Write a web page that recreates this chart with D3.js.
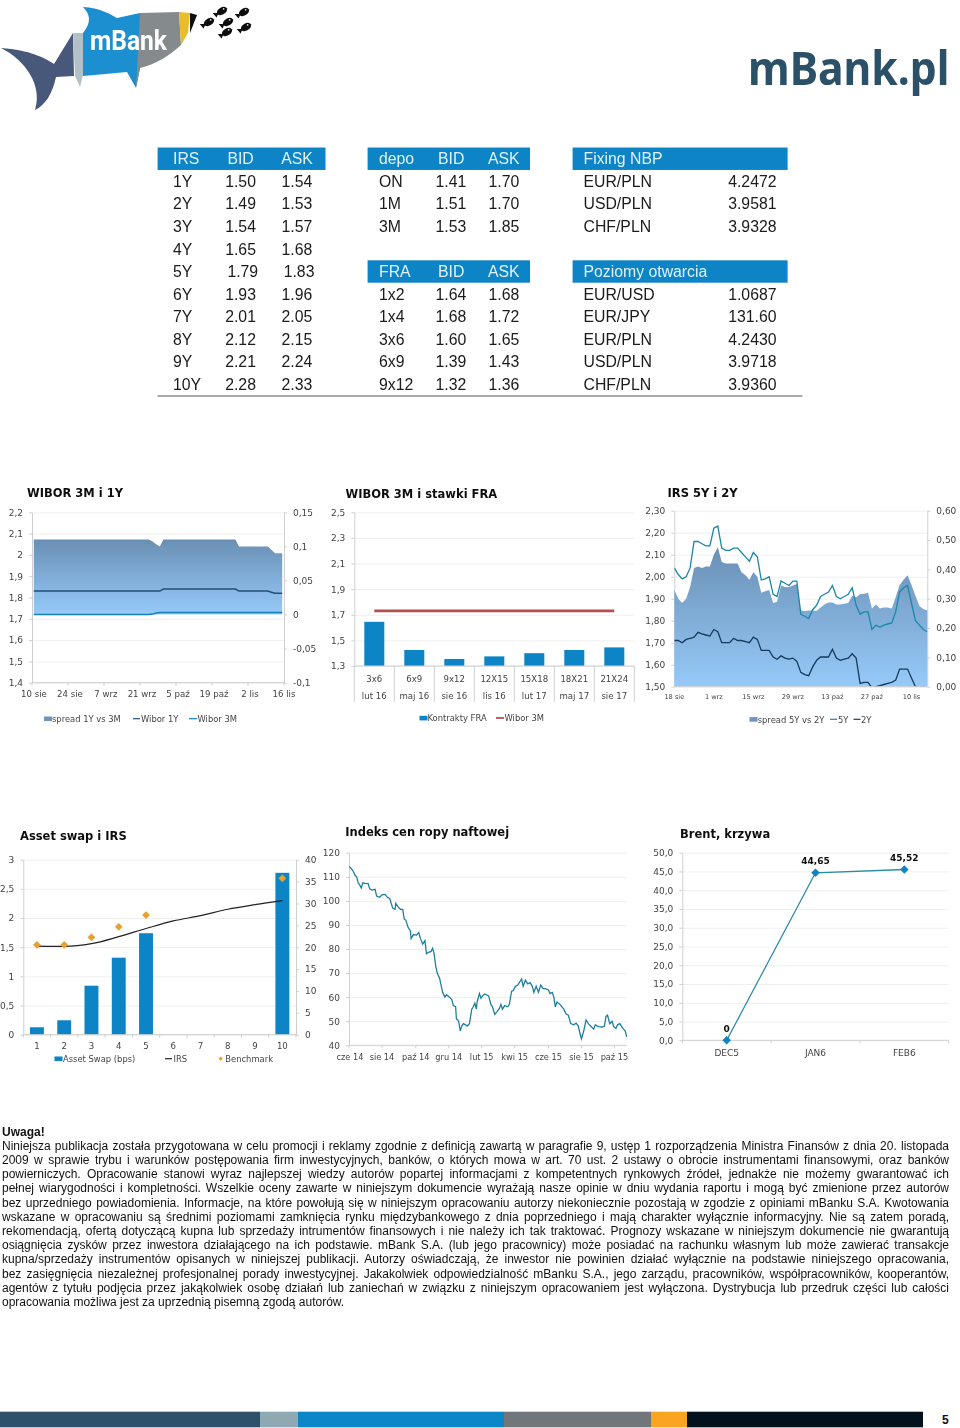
<!DOCTYPE html>
<html lang="pl"><head><meta charset="utf-8">
<script src="https://cdn.jsdelivr.net/npm/d3@7/dist/d3.min.js"></script>
<style>
html,body{margin:0;padding:0;background:#fff;width:960px;height:1428px;overflow:hidden}
#root{position:relative;width:960px;height:1428px}
svg{position:absolute;left:0;top:0}
.note{position:absolute;left:2px;width:947px;font:12px/14.2px "Liberation Sans",Arial,sans-serif;color:#111;white-space:nowrap;filter:blur(.25px)}
.just{white-space:normal;text-align:justify;text-align-last:justify}
.axis text{font-family:"DejaVu Sans",Verdana,sans-serif;fill:#444}
.axis .domain{stroke:#cfcfcf}
.axis line{stroke:#cfcfcf}
.grid line{stroke:#efefef}
.grid .domain{display:none}
.grid text{display:none}
</style></head><body><div id="root"></div>
<script>
// ---------- tables ----------
const irsRows=[["1Y","1.50","1.54"],["2Y","1.49","1.53"],["3Y","1.54","1.57"],["4Y","1.65","1.68"],["5Y","1.79","1.83"],["6Y","1.93","1.96"],["7Y","2.01","2.05"],["8Y","2.12","2.15"],["9Y","2.21","2.24"],["10Y","2.28","2.33"]];
const depoRows=[["ON","1.41","1.70"],["1M","1.51","1.70"],["3M","1.53","1.85"]];
const fraRows=[["1x2","1.64","1.68"],["1x4","1.68","1.72"],["3x6","1.60","1.65"],["6x9","1.39","1.43"],["9x12","1.32","1.36"]];
const fixingRows=[["EUR/PLN","4.2472"],["USD/PLN","3.9581"],["CHF/PLN","3.9328"]];
const openRows=[["EUR/USD","1.0687"],["EUR/JPY","131.60"],["EUR/PLN","4.2430"],["USD/PLN","3.9718"],["CHF/PLN","3.9360"]];

// ---------- WIBOR 3M i 1Y ----------
const wiborDateTicks=["10 sie","24 sie","7 wrz","21 wrz","5 paź","19 paź","2 lis","16 lis"];
const wiborLeftTicks=[1.4,1.5,1.6,1.7,1.8,1.9,2,2.1,2.2];
const wiborRightTicks=[-0.1,-0.05,0,0.05,0.1,0.15];
const wiborSpread=[.11,.11,.11,.11,.11,.11,.11,.11,.11,.11,.11,.11,.11,.11,.11,.11,.11,.11,.11,.11,.11,.11,.11,.11,.11,.11,.11,.11,.11,.11,.11,.11,.11,.107,.103,.10,.11,.11,.11,.11,.11,.11,.11,.11,.11,.11,.11,.11,.11,.11,.11,.11,.11,.11,.11,.11,.11,.10,.10,.10,.10,.10,.10,.10,.10,.10,.095,.09,.09,.09];
const wibor1Y=[1.83,1.83,1.83,1.83,1.83,1.83,1.83,1.83,1.83,1.83,1.83,1.83,1.83,1.83,1.83,1.83,1.83,1.83,1.83,1.83,1.83,1.83,1.83,1.83,1.83,1.83,1.83,1.83,1.83,1.83,1.83,1.83,1.83,1.83,1.83,1.83,1.84,1.84,1.84,1.84,1.84,1.84,1.84,1.84,1.84,1.84,1.84,1.84,1.84,1.84,1.84,1.84,1.84,1.84,1.84,1.84,1.84,1.83,1.83,1.83,1.83,1.83,1.83,1.83,1.83,1.83,1.825,1.82,1.82,1.82];
const wibor3M=[1.72,1.72,1.72,1.72,1.72,1.72,1.72,1.72,1.72,1.72,1.72,1.72,1.72,1.72,1.72,1.72,1.72,1.72,1.72,1.72,1.72,1.72,1.72,1.72,1.72,1.72,1.72,1.72,1.72,1.72,1.72,1.72,1.72,1.722,1.727,1.73,1.73,1.73,1.73,1.73,1.73,1.73,1.73,1.73,1.73,1.73,1.73,1.73,1.73,1.73,1.73,1.73,1.73,1.73,1.73,1.73,1.73,1.73,1.73,1.73,1.73,1.73,1.73,1.73,1.73,1.73,1.73,1.73,1.73,1.73];

// ---------- WIBOR 3M i stawki FRA ----------
const fraContracts=["3x6","6x9","9x12","12X15","15X18","18X21","21X24"];
const fraMonths=["lut 16","maj 16","sie 16","lis 16","lut 17","maj 17","sie 17"];
const fraValues=[1.645,1.425,1.355,1.375,1.40,1.425,1.445];
const fraWibor=[1.73,1.73,1.73,1.73,1.73,1.73,1.73];
const fraTicks=[1.3,1.5,1.7,1.9,2.1,2.3,2.5];

// ---------- IRS 5Y i 2Y ----------
const irsDateLabels=["18 sie","1 wrz","15 wrz","29 wrz","13 paź","27 paź","10 lis"];
const irsLeftTicks=[1.5,1.6,1.7,1.8,1.9,2.0,2.1,2.2,2.3];
const irsRightTicks=[0,0.1,0.2,0.3,0.4,0.5,0.6];
const irs5Y=[2.04,2.01,1.99,2.00,2.04,2.16,2.16,2.15,2.14,2.14,2.22,2.23,2.13,2.12,2.12,2.13,2.13,2.11,2.09,2.07,2.11,2.09,1.985,1.99,2.00,1.92,1.91,1.98,1.97,1.96,1.98,1.98,1.83,1.82,1.81,1.85,1.87,1.91,1.92,1.93,1.96,1.91,1.90,1.91,1.92,1.95,1.87,1.83,1.84,1.84,1.76,1.78,1.77,1.78,1.785,1.79,1.84,1.93,1.95,1.96,1.88,1.80,1.78,1.76,1.75];
const irs2Y=[1.71,1.71,1.70,1.715,1.72,1.725,1.747,1.74,1.735,1.73,1.76,1.75,1.70,1.70,1.70,1.72,1.71,1.71,1.705,1.70,1.725,1.715,1.665,1.665,1.665,1.635,1.625,1.64,1.63,1.625,1.63,1.615,1.565,1.555,1.55,1.59,1.62,1.635,1.635,1.635,1.67,1.63,1.62,1.625,1.63,1.65,1.63,1.515,1.52,1.52,1.495,1.50,1.505,1.51,1.515,1.52,1.53,1.58,1.58,1.58,1.54,1.50,1.495,1.50,1.49];
const irsSpread=[.33,.30,.285,.30,.34,.405,.41,.405,.41,.41,.45,.475,.425,.42,.42,.42,.42,.39,.38,.365,.39,.375,.32,.325,.33,.285,.29,.345,.34,.34,.345,.35,.26,.258,.26,.26,.258,.27,.28,.287,.287,.28,.28,.283,.285,.31,.305,.315,.317,.32,.267,.28,.267,.27,.27,.267,.305,.347,.365,.38,.347,.31,.275,.265,.26];

// ---------- Asset swap i IRS ----------
const swapTenors=[1,2,3,4,5,6,7,8,9,10];
const swapBps=[1.7,3.3,11.2,17.6,23.2,null,null,null,null,37];
const swapIRS=[1.52,1.515,1.56,1.68,1.82,1.95,2.04,2.15,2.23,2.30];
const swapBenchmark=[1.54,1.54,1.67,1.85,2.05,null,null,null,null,2.68];
const swapLeftTicks=[0,0.5,1,1.5,2,2.5,3];
const swapRightTicks=[0,5,10,15,20,25,30,35,40];

// ---------- Indeks cen ropy ----------
const oilDayLabels=[[0,"cze 14"],[43,"sie 14"],[87,"paź 14"],[130,"gru 14"],[173,"lut 15"],[216,"kwi 15"],[260,"cze 15"],[303,"sie 15"],[346,"paź 15"]];
const oilTicks=[40,50,60,70,80,90,100,110,120];
const oilDays=[0,3,6,8,10,12,14,16,18,21,25,27,30,34,36,40,43,47,50,53,57,60,61,64,67,70,72,74,77,80,81,84,88,91,93,96,99,101,103,107,109,111,113,115,118,120,122,125,127,131,134,136,139,140,143,145,147,149,152,154,157,160,162,164,166,167,170,172,174,177,182,185,187,190,193,196,198,200,203,207,209,212,214,217,220,222,225,227,230,233,236,239,241,244,247,250,253,256,260,262,265,267,269,271,275,280,283,286,289,293,296,299,301,303,306,309,312,315,319,321,325,330,333,335,337,340,343,345,348,350,353,357,360,362];
const oilPrice=[114.3,113.5,112,110.5,110,107.5,106.5,105.3,107.5,107.3,107.2,105,104.5,104.8,102,101.5,102.5,102.7,101.5,101,97,96.5,99,97.5,96.5,96.5,92.5,92,89,87.5,84.3,86,85.8,86.8,84.5,82,83.5,78,78.5,79,80.3,78,73,70,68,65,62,60,61,60,59,56.5,56,51,50,46,48,49,48.5,48,49,55,56,57.5,55,58,61.5,59.5,60.5,61.3,60.5,57,56,52.8,54,55.3,57,55,56.5,56,57,62.5,62.7,64.5,65,66,67.5,64.5,67,65.5,66,64.5,62,64.5,62,65,63.5,63.5,63,61.5,62,60,56,58,57,55,53,52.5,49,48.5,49.2,48,45,42.7,46,50.5,49,48,46.7,48.5,47.8,47.6,48,52,52.5,49,50,47.8,47,48.5,49,47,46,43.5];

// ---------- Brent ----------
const brentMonths=["DEC5","JAN6","FEB6"];
const brentValues=[0,44.65,45.52];
const brentLabels=["0","44,65","45,52"];
const brentTicks=[0,5,10,15,20,25,30,35,40,45,50];

// ---------- footer / note ----------
const footerColors=["#2c5168","#8fa9b4","#0a86c9","#70767a","#f9a51f","#03111c"];
const footerEnds=[260,298,504,651,687,923];
const noteLines=[
"Niniejsza publikacja została przygotowana w celu promocji i reklamy zgodnie z definicją zawartą w paragrafie 9, ustęp 1 rozporządzenia Ministra Finansów z dnia 20. listopada",
"2009 w sprawie trybu i warunków postępowania firm inwestycyjnych, banków, o których mowa w art. 70 ust. 2 ustawy o obrocie instrumentami finansowymi, oraz banków",
"powierniczych. Opracowanie stanowi wyraz najlepszej wiedzy autorów popartej informacjami z kompetentnych rynkowych źródeł, jednakże nie możemy gwarantować ich",
"pełnej wiarygodności i kompletności. Wszelkie oceny zawarte w niniejszym dokumencie wyrażają nasze opinie w dniu wydania raportu i mogą być zmienione przez autorów",
"bez uprzedniego powiadomienia. Informacje, na które powołują się w niniejszym opracowaniu autorzy niekoniecznie pozostają w zgodzie z opiniami mBanku S.A. Kwotowania",
"wskazane w opracowaniu są średnimi poziomami zamknięcia rynku międzybankowego z dnia poprzedniego i mają charakter wyłącznie informacyjny. Nie są zatem poradą,",
"rekomendacją, ofertą dotyczącą kupna lub sprzedaży intrumentów finansowych i nie należy ich tak traktować. Prognozy wskazane w niniejszym dokumencie nie gwarantują",
"osiągnięcia zysków przez inwestora działającego na ich podstawie. mBank S.A. (lub jego pracownicy) może posiadać na rachunku własnym lub może zawierać transakcje",
"kupna/sprzedaży instrumentów opisanych w niniejszej publikacji. Autorzy oświadczają, że inwestor nie powinien działać wyłącznie na podstawie niniejszego opracowania,",
"bez zasięgnięcia niezależnej profesjonalnej porady inwestycyjnej. Jakakolwiek odpowiedzialność mBanku S.A., jego zarządu, pracowników, współpracowników, kooperantów,",
"agentów z tytułu podjęcia przez jakąkolwiek osobę działań lub zaniechań w związku z niniejszym opracowaniem jest wyłączona. Dystrybucja lub przedruk części lub całości",
"opracowania możliwa jest za uprzednią pisemną zgodą autorów."];

// ---------- drawing ----------
const root=d3.select("#root");
const svg=root.append("svg").attr("width",960).attr("height",1428);
const defs=svg.append("defs");
const CHART="DejaVu Sans,Verdana,sans-serif", SANS="Liberation Sans,Arial,sans-serif";
const comma=v=>String(v).replace(".",",");
const comma2=v=>v.toFixed(2).replace(".",",");
const comma1=v=>v.toFixed(1).replace(".",",");
defs.append("filter").attr("id","soft").attr("x",0).attr("y",0).attr("width",1).attr("height",1).append("feGaussianBlur").attr("stdDeviation",0.42);
defs.append("filter").attr("id","soft2").attr("x",0).attr("y",0).attr("width",1).attr("height",1).append("feGaussianBlur").attr("stdDeviation",0.3);

// logos
const logo=svg.append("g").attr("filter","url(#soft2)");
[["M1,48C30,50 45,58 54,64L73,33L74,76L56,77C52,95 45,105 35,110C43,85 25,60 1,48Z","#46597a"],
 ["M73,33L83,33L83,75L80,87L75,76Z","#b3c0c8"],
 ["M83,33C92,22 90,14 83,7C100,8 110,14 117,18L140,13L140,68L136,88L127,72L83,76Z","#1a8fd1"],
 ["M140,13L179,12L181,45C170,55 155,65 140,68L136,88Z","#858a8d"],
 ["M179,12L190,13L188,33L181,45Z","#e8bc2a"],
 ["M190,13L197,15L190,33Z","#0b0b0b"]].forEach(([d,f])=>logo.append("path").attr("d",d).attr("fill",f));
[[222,11],[244,12],[209,22],[228,22],[246,27],[227,32]].forEach(([x,y])=>{
  const g=logo.append("g").attr("transform",`translate(${x},${y}) rotate(-30)`);
  g.append("ellipse").attr("rx",5.5).attr("ry",3.6).attr("fill","#111");
  g.append("path").attr("d","M-4,0L-9,-3L-8,3Z").attr("fill","#111");
  g.append("circle").attr("cx",2.5).attr("cy",-1).attr("r",.8).attr("fill","#fff");
});
logo.append("text").text("mBank").attr("transform","translate(90,50) scale(1,1.15)").attr("font-family","Liberation Sans Narrow,Roboto,sans-serif").attr("font-weight",700).attr("font-size",24).attr("fill","#fff").attr("textLength",77).attr("lengthAdjust","spacingAndGlyphs");
logo.append("text").text("mBank.pl").attr("transform","translate(748,85) scale(1,1.09)").attr("font-family","Noto Sans,sans-serif").attr("font-weight",700).attr("font-size",42.7).attr("fill","#2c5168");

// tables
const tableG=svg.append("g").attr("filter","url(#soft2)");
const rowY=i=>181.3+22.55*i;
function cell(txt,x,y,fill,anchor){tableG.append("text").text(txt).attr("x",x).attr("y",y+5.6).attr("font-family",SANS).attr("font-size",15.8).attr("fill",fill||"#1a1a1a").attr("text-anchor",anchor||"start");}
function head(x0,x1,row,labels){
  const cy=rowY(row)-22.55;
  tableG.append("rect").attr("x",x0).attr("y",cy-11.2).attr("width",x1-x0).attr("height",22.4).attr("fill","#0a84c6");
  labels.forEach(([t,x])=>cell(t,x,cy,"#e4f2fb"));
}
head(157.6,325.5,0,[["IRS",173],["BID",227.4],["ASK",281.3]]);
irsRows.forEach((r,i)=>{const dx=r[0]==="5Y"?2.2:0;cell(r[0],173,rowY(i));cell(r[1],225.2+dx,rowY(i));cell(r[2],281.5+dx,rowY(i));});
head(367.6,530,0,[["depo",379],["BID",438],["ASK",488]]);
depoRows.forEach((r,i)=>{cell(r[0],379,rowY(i));cell(r[1],435.5,rowY(i));cell(r[2],488.5,rowY(i));});
head(367.6,530,5,[["FRA",379],["BID",438],["ASK",488]]);
fraRows.forEach((r,i)=>{cell(r[0],379,rowY(i+5));cell(r[1],435.5,rowY(i+5));cell(r[2],488.5,rowY(i+5));});
head(572.6,787.6,0,[["Fixing NBP",583.5]]);
fixingRows.forEach((r,i)=>{cell(r[0],583.5,rowY(i));cell(r[1],776.5,rowY(i),null,"end");});
head(572.6,787.6,5,[["Poziomy otwarcia",583.5]]);
openRows.forEach((r,i)=>{cell(r[0],583.5,rowY(i+5));cell(r[1],776.5,rowY(i+5),null,"end");});
svg.append("line").attr("x1",157.6).attr("x2",802.4).attr("y1",396).attr("y2",396).attr("stroke","#555").attr("stroke-width",1);

// helpers
const charts=svg.append("g").attr("filter","url(#soft)");
function title(t,x,y){charts.append("text").text(t).attr("x",x).attr("y",y+4).attr("font-family",CHART).attr("font-weight",700).attr("font-size",11.5).attr("fill","#111");}
function leftAxis(y,ticks,fmt,x0,x1,fs){
  charts.append("g").attr("class","grid").attr("transform",`translate(${x0},0)`).call(d3.axisLeft(y).tickValues(ticks).tickSize(-(x1-x0)));
  const g=charts.append("g").attr("class","axis").attr("transform",`translate(${x0},0)`).call(d3.axisLeft(y).tickValues(ticks).tickFormat(fmt).tickSize(3).tickSizeOuter(0).tickPadding(6));
  g.selectAll("text").attr("font-size",fs||9);return g;
}
function rightAxis(y,ticks,fmt,x1,fs){
  const g=charts.append("g").attr("class","axis").attr("transform",`translate(${x1},0)`).call(d3.axisRight(y).tickValues(ticks).tickFormat(fmt).tickSize(3).tickSizeOuter(0).tickPadding(6));
  g.selectAll("text").attr("font-size",fs||9);return g;
}
function txt(t,x,y,opts){opts=opts||{};charts.append("text").text(t).attr("x",x).attr("y",y+3.2).attr("font-family",CHART).attr("font-size",opts.fs||8.6).attr("font-weight",opts.w||400).attr("fill",opts.fill||"#444").attr("text-anchor",opts.a||"start");}
function legendBox(x,y,f){charts.append("rect").attr("x",x).attr("y",y-2.2).attr("width",8).attr("height",4.6).attr("fill",f);}
function legendLine(x0,x1,y,c,w){charts.append("line").attr("x1",x0).attr("x2",x1).attr("y1",y).attr("y2",y).attr("stroke",c).attr("stroke-width",w||1.2);}
function grad(id,y0,y1){const g=defs.append("linearGradient").attr("id",id).attr("gradientUnits","userSpaceOnUse").attr("x1",0).attr("x2",0).attr("y1",y0).attr("y2",y1);
  g.append("stop").attr("offset",0).attr("stop-color","#6a8fb4");g.append("stop").attr("offset",1).attr("stop-color","#96caf9");}
function hLine(x0,x1,y){charts.append("line").attr("x1",x0).attr("x2",x1).attr("y1",y).attr("y2",y).attr("stroke","#cfcfcf");}
function diamond(x,y,size,fill){charts.append("path").attr("d",d3.symbol(d3.symbolSquare,size)()).attr("transform",`translate(${x},${y}) rotate(45)`).attr("fill",fill);}

// Chart 1
(function(){
  const x0=32,x1=284,top=512.3,bot=682.7;
  const xB=d3.scaleBand().domain(d3.range(wiborSpread.length)).range([x0,x1]);
  const cx=i=>xB(i)+xB.bandwidth()/2;
  const yL=d3.scaleLinear().domain([1.4,2.2]).range([bot,top]);
  const yR=d3.scaleLinear().domain([-0.1,0.15]).range([bot,top]);
  title("WIBOR 3M i 1Y",27,493);
  leftAxis(yL,wiborLeftTicks,comma,x0,x1);
  rightAxis(yR,wiborRightTicks,comma,x1);
  grad("g1",yR(0.11),yR(0));
  charts.append("path").datum(wiborSpread).attr("fill","url(#g1)").attr("d",d3.area().x((d,i)=>cx(i)).y0(yR(0)).y1(d=>yR(d)));
  [[wibor1Y,"#234d78"],[wibor3M,"#1380b8"]].forEach(([s,c])=>charts.append("path").datum(s).attr("fill","none").attr("stroke",c).attr("stroke-width",1.5).attr("d",d3.line().x((d,i)=>cx(i)).y(d=>yL(d))));
  hLine(x0,x1,bot);
  wiborDateTicks.forEach((t,k)=>{const i=Math.min(k*10,wiborSpread.length);const tx=xB(Math.min(i,69))+(i>=70?xB.bandwidth():0);
    charts.append("line").attr("x1",tx).attr("x2",tx).attr("y1",bot).attr("y2",bot+3).attr("stroke","#cfcfcf");
    txt(t,tx+(k==7?0:2),694,{a:"middle",fs:8.6});});
  legendBox(44,718.7,"#6f94ba");txt("spread 1Y vs 3M",52,718.7,{fs:8.4});
  legendLine(133,140,718.7,"#234d78");txt("Wibor 1Y",141,718.7,{fs:8.4});
  legendLine(189,197,718.7,"#1380b8");txt("Wibor 3M",197.5,718.7,{fs:8.4});
})();

// Chart 2
(function(){
  const x0=354.3,x1=634.3,top=512.3,bot=666;
  const x=d3.scaleBand().domain(fraContracts).range([x0,x1]);
  const y=d3.scaleLinear().domain([1.3,2.5]).range([bot,top]);
  title("WIBOR 3M i stawki FRA",345.5,493.5);
  leftAxis(y,fraTicks,comma,x0,x1);
  charts.selectAll(null).data(fraValues).join("rect").attr("x",(d,i)=>x(fraContracts[i])+x.bandwidth()*.25).attr("width",x.bandwidth()*.5).attr("y",d=>y(d)).attr("height",d=>bot-y(d)).attr("fill","#0a84c6");
  charts.append("path").datum(fraWibor).attr("fill","none").attr("stroke","#b5504f").attr("stroke-width",2.6).attr("d",d3.line().x((d,i)=>x(fraContracts[i])+x.bandwidth()/2).y(d=>y(d)));
  hLine(x0,x1,bot);
  fraContracts.forEach((c,i)=>{
    const bx=x(c);
    charts.append("line").attr("x1",bx).attr("x2",bx).attr("y1",bot).attr("y2",702).attr("stroke","#cfcfcf");
    txt(c,bx+x.bandwidth()/2,678.7,{a:"middle",fs:8.6});
    txt(fraMonths[i],bx+x.bandwidth()/2,696,{a:"middle",fs:8.6});
  });
  charts.append("line").attr("x1",x1).attr("x2",x1).attr("y1",bot).attr("y2",702).attr("stroke","#cfcfcf");
  legendBox(419.5,718,"#0a84c6");txt("Kontrakty FRA",427.5,718,{fs:8.4});
  legendLine(496,504,718,"#b5504f",1.8);txt("Wibor 3M",504.5,718,{fs:8.4});
})();

// Chart 3
(function(){
  const x0=674.3,x1=927.3,top=510.7,bot=686.7;
  const x=d3.scalePoint().domain(d3.range(irs5Y.length)).range([x0,x1]);
  const yL=d3.scaleLinear().domain([1.5,2.3]).range([bot,top]);
  const yR=d3.scaleLinear().domain([0,0.6]).range([bot,top]);
  title("IRS 5Y i 2Y",667.5,493);
  leftAxis(yL,irsLeftTicks,comma2,x0,x1);
  rightAxis(yR,irsRightTicks,comma2,x1);
  grad("g3",yR(0.475),yR(0));
  defs.append("clipPath").attr("id","c3").append("rect").attr("x",x0).attr("y",top).attr("width",x1-x0).attr("height",bot-top);
  charts.append("path").datum(irsSpread).attr("fill","url(#g3)").attr("d",d3.area().x((d,i)=>x(i)).y0(bot).y1(d=>yR(d)));
  [[irs5Y,"#1b87ab"],[irs2Y,"#153a5c"]].forEach(([s,c])=>charts.append("path").datum(s).attr("clip-path","url(#c3)").attr("fill","none").attr("stroke",c).attr("stroke-width",1.3).attr("d",d3.line().x((d,i)=>x(i)).y(d=>yL(d))));
  hLine(x0,x1,bot);
  irsDateLabels.forEach((t,k)=>txt(t,x(k*10),696,{a:"middle",fs:6.6}));
  legendBox(749.5,719.3,"#6f94ba");txt("spread 5Y vs 2Y",757.7,719.3,{fs:8.4});
  legendLine(830,837,719.3,"#1b87ab");txt("5Y",838,719.3,{fs:8.4});
  legendLine(853.5,860.5,719.3,"#153a5c");txt("2Y",861,719.3,{fs:8.4});
})();

// Chart 4
(function(){
  const x0=23.3,x1=296,top=859.7,bot=1034.7;
  const x=d3.scaleBand().domain(swapTenors).range([x0,x1]);
  const yL=d3.scaleLinear().domain([0,3]).range([bot,top]);
  const yR=d3.scaleLinear().domain([0,40]).range([bot,top]);
  const cx=i=>x(swapTenors[i])+x.bandwidth()/2;
  title("Asset swap i IRS",20,835.5);
  leftAxis(yL,swapLeftTicks,comma,x0,x1);
  rightAxis(yR,swapRightTicks,comma,x1);
  swapBps.forEach((v,i)=>{if(v==null)return;charts.append("rect").attr("x",x(swapTenors[i])+x.bandwidth()*.245).attr("width",x.bandwidth()*.51).attr("y",yR(v)).attr("height",bot-yR(v)).attr("fill","#0a84c6");});
  charts.append("path").datum(swapIRS).attr("fill","none").attr("stroke","#222").attr("stroke-width",1.2).attr("d",d3.line().curve(d3.curveMonotoneX).x((d,i)=>cx(i)).y(d=>yL(d)));
  swapBenchmark.forEach((v,i)=>{if(v==null)return;diamond(cx(i),yL(v),30,"#e8a02e");});
  hLine(x0,x1,bot);
  swapTenors.forEach((t,i)=>{
    const tx=x(t);charts.append("line").attr("x1",tx).attr("x2",tx).attr("y1",bot).attr("y2",bot+3).attr("stroke","#cfcfcf");
    txt(t,cx(i),1045.3,{a:"middle",fs:8.6});
  });
  charts.append("line").attr("x1",x1).attr("x2",x1).attr("y1",bot).attr("y2",bot+3).attr("stroke","#cfcfcf");
  legendBox(54.5,1058.7,"#0a84c6");txt("Asset Swap (bps)",63,1058.7,{fs:8.4});
  legendLine(165,172,1058.7,"#222");txt("IRS",173.5,1058.7,{fs:8.4});
  diamond(220.7,1058.7,9,"#e8a02e");
  txt("Benchmark",225.3,1058.7,{fs:8.4});
})();

// Chart 5
(function(){
  const x0=349,x1=626.7,top=852.7,bot=1045.3;
  const x=d3.scaleLinear().domain([0,362]).range([x0,x1]);
  const y=d3.scaleLinear().domain([40,120]).range([bot,top]);
  title("Indeks cen ropy naftowej",345.3,832);
  leftAxis(y,oilTicks,d=>d,x0,x1);
  charts.append("path").datum(oilPrice).attr("fill","none").attr("stroke","#1f7f9f").attr("stroke-width",1.3).attr("d",d3.line().x((d,i)=>x(oilDays[i])).y(d=>y(d)));
  hLine(x0,x1,bot);
  oilDayLabels.forEach(([d,t])=>{charts.append("line").attr("x1",x(d)).attr("x2",x(d)).attr("y1",bot).attr("y2",bot+3).attr("stroke","#cfcfcf");
    txt(t,x(d)+(d==0?1:0),1056.7,{a:"middle",fs:8.2});});
})();

// Chart 6
(function(){
  const x0=682.3,x1=948.7,top=852.7,bot=1040.3;
  const x=d3.scaleBand().domain(brentMonths).range([x0,x1]);
  const y=d3.scaleLinear().domain([0,50]).range([bot,top]);
  const cx=i=>x(brentMonths[i])+x.bandwidth()/2;
  title("Brent, krzywa",680,834);
  leftAxis(y,brentTicks,comma1,x0,x1);
  charts.append("path").datum(brentValues).attr("fill","none").attr("stroke","#2a8aa8").attr("stroke-width",1.3).attr("d",d3.line().x((d,i)=>cx(i)).y(d=>y(d)));
  hLine(x0,x1,bot);
  brentValues.forEach((v,i)=>{diamond(cx(i),y(v),36,"#0d84c4");
    txt(brentLabels[i],cx(i),y(v)-11.5,{a:"middle",fs:9,w:700,fill:"#111"});});
  brentMonths.forEach((m,i)=>{const tx=x(m);charts.append("line").attr("x1",tx).attr("x2",tx).attr("y1",bot).attr("y2",bot+3).attr("stroke","#cfcfcf");
    txt(m,cx(i),1052.7,{a:"middle",fs:9});});
  charts.append("line").attr("x1",x1).attr("x2",x1).attr("y1",bot).attr("y2",bot+3).attr("stroke","#cfcfcf");
})();

// Note
root.append("div").attr("class","note").style("top","1124.5px").style("font-weight","700").text("Uwaga!");
noteLines.forEach((l,i)=>root.append("div").attr("class","note"+(i<11?" just":"")).style("top",(1138.8+i*14.2)+"px").text(l));

// Footer
footerColors.forEach((c,i)=>svg.append("rect").attr("x",i?footerEnds[i-1]:0).attr("width",footerEnds[i]-(i?footerEnds[i-1]:0)).attr("y",1411.7).attr("height",15.6).attr("fill",c));
svg.append("text").text("5").attr("x",942).attr("y",1424).attr("font-family",SANS).attr("font-weight",700).attr("font-size",12).attr("fill","#111");
</script></body></html>
